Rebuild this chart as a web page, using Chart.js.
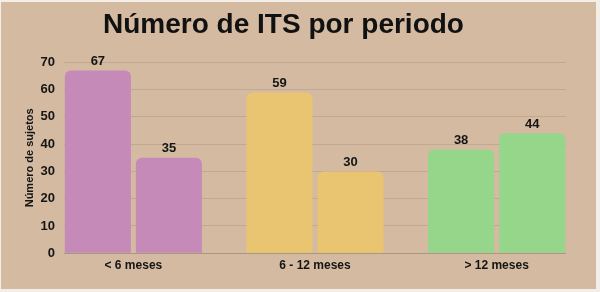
<!DOCTYPE html>
<html>
<head>
<meta charset="utf-8">
<script src="https://cdn.jsdelivr.net/npm/chart.js@4.4.1/dist/chart.umd.min.js"></script>
<style>
    html, body { margin: 0; padding: 0; background: #f4eee8; }
    #chart-container {
        position: absolute;
        left: 1px;
        top: 2px;
        width: 595px;
        height: 287px;
        background: #d3baa1;
    }
</style>
</head>
<body>
<div id="chart-container"><canvas id="grafico"></canvas></div>
<script>
const PERIODOS = ['< 6 meses', '6 - 12 meses', '> 12 meses'];
const SERIE_1 = [67, 59, 38];
const SERIE_2 = [35, 30, 44];
const COLORES = ['#c68ab8', '#e9c572', '#95d68b'];
const Y_TICKS = [0, 10, 20, 30, 40, 50, 60, 70];

// etiquetas de valor encima de cada barra
const valueLabels = {
    id: 'valueLabels',
    afterDatasetsDraw(chart) {
        const ctx = chart.ctx;
        ctx.save();
        ctx.font = 'bold 13px "Liberation Sans", Arial, sans-serif';
        ctx.fillStyle = '#151515';
        ctx.textAlign = 'center';
        ctx.textBaseline = 'alphabetic';
        chart.data.datasets.forEach((ds, i) => {
            chart.getDatasetMeta(i).data.forEach((bar, j) => {
                ctx.fillText(ds.data[j], bar.x, bar.y - 5.5);
            });
        });
        ctx.restore();
    }
};

new Chart(document.getElementById('grafico'), {
    type: 'bar',
    data: {
        labels: PERIODOS,
        datasets: [{
            data: SERIE_1,
            backgroundColor: COLORES,
            borderRadius: 6,
            borderSkipped: 'start'
        }, {
            data: SERIE_2,
            backgroundColor: COLORES,
            borderRadius: 6,
            borderSkipped: 'start'
        }]
    },
    options: {
        responsive: true,
        maintainAspectRatio: false,
        animation: false,
        categoryPercentage: 0.782,
        barPercentage: 0.93,
        layout: { padding: { left: 0, right: 30, top: 0, bottom: 11.4 } },
        plugins: {
            legend: { display: false },
            tooltip: { enabled: false },
            title: {
                display: true,
                text: 'Número de ITS por periodo',
                color: '#111',
                font: { family: '"Liberation Sans", Arial, sans-serif', size: 28, weight: 'bold', lineHeight: 1.2 },
                padding: { top: 6, bottom: 20.8 }
            }
        },
        scales: {
            x: {
                grid: { display: false, drawTicks: false },
                border: { display: false },
                ticks: {
                    color: '#151515',
                    padding: 5,
                    font: { family: '"Liberation Sans", Arial, sans-serif', size: 12, weight: 'bold' }
                },
                afterBuildTicks(scale) {
                    // grupos pegados a los bordes del área de trazado
                    scale._startValue = -0.382;
                    scale._valueRange = 2.764;
                }
            },
            y: {
                min: 0,
                max: 70,
                afterBuildTicks(scale) {
                    scale.ticks = Y_TICKS.map(v => ({ value: v }));
                },
                afterFit(scale) {
                    scale.width = 63;
                },
                border: { display: false },
                grid: {
                    drawTicks: false,
                    color: (c) => c.tick && c.tick.value === 0 ? '#ab9680' : '#c2a891'
                },
                ticks: {
                    color: '#151515',
                    padding: 9,
                    font: { family: '"Liberation Sans", Arial, sans-serif', size: 13, weight: 'bold' }
                },
                title: {
                    display: true,
                    text: 'Número de sujetos',
                    color: '#151515',
                    font: { family: '"Liberation Sans", Arial, sans-serif', size: 11, weight: 'bold', lineHeight: 1.2 },
                    padding: { top: 22.4, bottom: 0 }
                }
            }
        }
    },
    plugins: [valueLabels]
});
</script>
</body>
</html>
